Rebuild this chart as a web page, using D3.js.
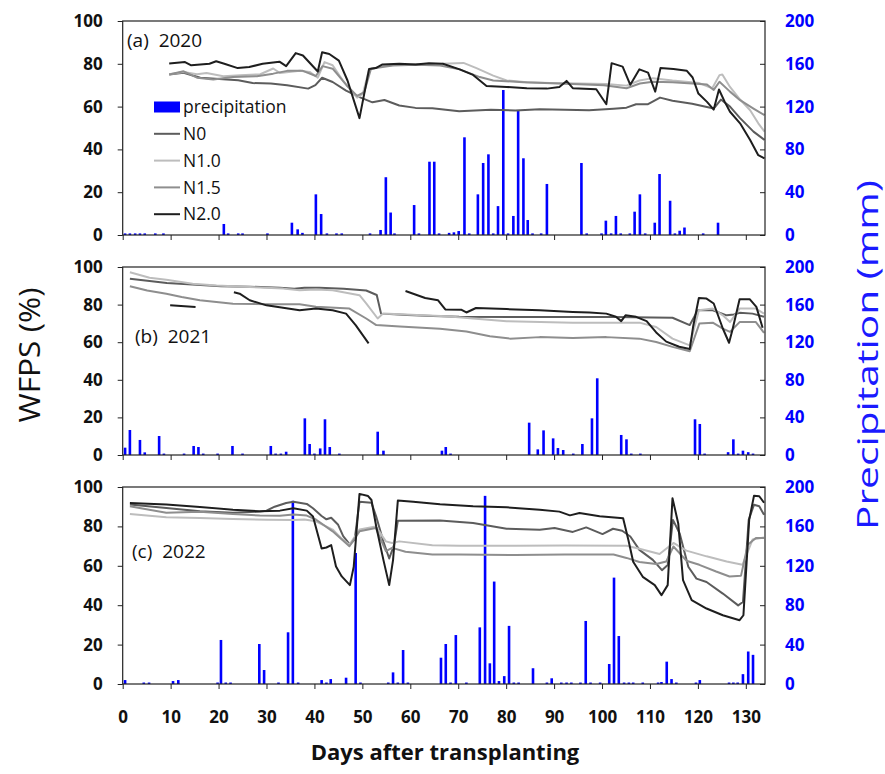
<!DOCTYPE html>
<html><head><meta charset="utf-8">
<script src="https://cdn.jsdelivr.net/npm/d3@7"></script>
<style>body{margin:0;background:#fff}svg{display:block}</style>
</head><body>
<svg id="chart" width="885" height="774"></svg>
<script>
// ---------- labels & ticks ----------
const treatments = ["N0", "N1.0", "N1.5", "N2.0"];
const panelLabels = ["(a)  2020", "(b)  2021", "(c)  2022"];
const wfpsTicks = [0, 20, 40, 60, 80, 100];
const precipTicks = [0, 40, 80, 120, 160, 200];
const dayTicks = [0, 10, 20, 30, 40, 50, 60, 70, 80, 90, 100, 110, 120, 130];

// ---------- precipitation [day, mm] ----------
const precip2020 = [[0.5,1.5],[1.5,1.5],[2.6,1.5],[3.6,1.5],[4.6,1.5],[6.8,1.5],[8.5,1.5],[21.1,10.3],[22,1.5],[24.1,1.5],[25,1.5],[30.2,1.5],[35.3,11.5],[36.5,5.3],[37.5,2],[40.3,38],[41.4,19.6],[42.6,1.5],[44.6,1.5],[45.7,1.5],[51.6,1.5],[53.8,4.7],[54.9,54],[55.9,21],[56.7,1.5],[60.8,28],[61.8,1.5],[64,68.5],[65,68.5],[66,1.5],[68.1,2],[69.1,2.5],[70.1,3.7],[71.3,91.3],[72.3,1.5],[74.1,38],[75.2,67.3],[76.3,75.4],[77.3,1.5],[78.3,27],[79.4,135.5],[80.4,1.5],[81.5,17.8],[82.5,116],[83.6,71.7],[84.5,14],[85.5,1.5],[87.3,1.5],[88.5,47.7],[95.7,67.3],[96.8,1.5],[99.9,1.5],[100.8,13.4],[101.9,1.5],[102.9,17.8],[103.9,1.5],[105.8,1.5],[106.8,21.8],[107.9,38],[109,1.5],[111,11.5],[112,57],[114.2,32],[115.2,1.5],[116.2,4],[117.2,7],[121.1,1.5],[124.2,11.5]];
const precip2021 = [[0.5,7.8],[1.5,26.6],[3.6,16],[4.6,2.8],[7.6,20.2],[8.6,1.5],[12.8,1.5],[14.8,9.6],[15.8,8.5],[16.8,1.5],[19.8,1.5],[22.9,9.6],[25,1.5],[30.9,9.6],[31.9,1.5],[33,1.5],[34.1,3.5],[38,39],[39,11.7],[40,1.5],[41.2,7],[42.2,38],[43.2,8.5],[45.2,1.5],[53.2,24.8],[54.4,4.6],[66.6,4.6],[67.4,8.5],[68.4,1.5],[84.8,34.4],[86.6,6],[87.8,26.2],[89.8,17.7],[90.8,7.4],[91.9,5.3],[94,1.5],[95.9,11.7],[97.9,39],[99,81.6],[104,21.3],[105.1,16.7],[106.1,1.5],[108,1.5],[119.4,38],[120.4,33],[121.4,1.5],[126.3,3],[127.4,16.7],[128.4,1.5],[129.4,4.6],[130.5,3],[131.5,1.5]];
const precip2022 = [[0.5,4],[4.4,1.5],[5.5,1.5],[10.5,3],[11.6,4],[19.8,1.5],[20.5,44.7],[21.5,1.5],[22.5,1.5],[28.5,40.6],[29.5,14.2],[32.5,1.5],[34.5,52.5],[35.5,186],[36.6,1.5],[41.5,4],[42.5,1.5],[43.4,5],[46.6,6.4],[48.6,133],[49.6,1.5],[55.4,1.5],[56.4,11.8],[57.4,1.5],[58.5,34.5],[59.5,1.5],[66.4,26.7],[67.4,40.6],[68.4,1.5],[69.5,49.7],[71.7,1.5],[74.5,57.5],[75.6,191],[76.6,21],[77.5,104],[78.5,3],[79.6,8],[80.6,59],[81.6,1.5],[82.6,1.5],[85.6,16],[88.5,1.5],[89.5,5.8],[91.5,1.5],[92.6,1.5],[93.6,1.5],[95.5,1.5],[96.6,64],[97.6,1.5],[99.6,1.5],[101.5,20.3],[102.5,108],[103.5,48.7],[104.6,1.5],[105.6,1.5],[106.5,1.5],[108.5,1.5],[111.7,1.5],[112.4,2],[113.5,22.7],[114.5,5],[115.5,1.5],[119.6,1.5],[120.4,4],[126.5,1.5],[127.4,1.5],[128.3,1.5],[129.4,10],[130.5,33],[131.5,29.6]];

// ---------- WFPS (%) [day, value]; null = gap ----------
const n0_2020 = [[9.7,75],[12.7,75.8],[16.2,73.5],[24.1,72.3],[27.1,71],[30.9,70.8],[34.3,70],[38.7,68.4],[40.2,70],[41.6,73.5],[43.8,71.5],[46.6,67.5],[49.4,64.4],[52.1,62],[54.6,63.1],[57.7,60.5],[61.1,59.4],[64.6,59.2],[70.2,57.8],[76.8,58.5],[81.9,58.2],[87,58.8],[92.2,58.5],[97.3,58.3],[102.4,59],[105.1,59.5],[107.1,61.1],[109.6,61.1],[112.1,64.2],[114.7,62.7],[118.8,61.3],[123.3,59.1],[124.8,63.3],[126.7,60],[128.8,54.6],[131.6,48.3],[133.9,44.4]];
const n10_2020 = [[9.7,75.1],[12.7,76.2],[15.5,75.1],[17.5,75.7],[21,74.2],[24.5,74.7],[28.7,75.1],[31.4,77.8],[32.8,75.7],[37,76.7],[39,76.2],[40.7,73.5],[42.1,80.8],[43.8,79.3],[45.9,72.3],[47.9,66.8],[48.9,64.2],[50.1,66],[51.4,77.3],[54.3,79],[57.3,79.5],[61.4,79.8],[66.6,80],[71.1,80.4],[73.8,78],[77.3,74.5],[80.1,72.2],[84.3,71.4],[89.1,71],[100.9,70.6],[105.1,69.8],[107.8,72.2],[110.6,73.3],[114.7,72.2],[120.3,71],[123,68.6],[124.5,74.7],[125.1,75],[126.7,69.2],[128.8,63.3],[130.9,58.3],[132.6,52.2],[133.9,48.3]];
const n15_2020 = [[9.7,75],[12.7,76.5],[15.5,73.5],[18.9,72.7],[23,73.8],[28,74.2],[31.4,75.4],[34.3,76.7],[37.6,76.7],[40.3,74.3],[41.7,78.9],[43.8,77.7],[46.7,70],[48.9,65],[50.4,66.8],[51.8,77.7],[56.3,79.2],[61.4,79.5],[66.2,79.2],[70.3,77.4],[74.5,73.8],[77.3,72.2],[83.6,71.4],[93.9,70.6],[100.4,70],[105.1,68.6],[107.9,70.8],[110.6,71.6],[114.7,71.4],[118.8,70.8],[121.9,70.3],[123.3,67.8],[124.5,71.6],[126.7,67],[128.8,63],[131.6,59.1],[133.9,56]];
const n20_2020 = [[9.7,80.1],[13,80.8],[14.3,79.3],[18.1,80],[19.5,81.2],[21.2,80],[24,78],[26.4,78.5],[29.2,80],[32.7,81],[34.1,78.9],[36.1,85],[37.6,83.9],[40.7,76.4],[41.6,85.4],[43.1,84.6],[45.1,81.5],[46.9,72.2],[49.4,54.6],[51.4,77.6],[52.8,78],[54.2,79.7],[57.7,80],[61.1,79.7],[63.9,80.3],[66.8,80],[70.3,77.4],[73.1,74.8],[75.9,69.6],[80.1,69.2],[84.3,68.6],[88.5,68.4],[91.1,69.2],[92.6,72],[93.9,68.6],[98.8,68.1],[100.9,61.1],[102,80.3],[104.3,78.7],[105.9,70.2],[107.8,77.4],[109.6,75.9],[111.1,67],[112.2,78],[114.9,77.6],[117.7,76.7],[118.9,73.6],[120.1,66.1],[121.9,62.2],[123.3,58.6],[124.4,68],[125.6,62.2],[126.7,57.6],[128.8,52.2],[130.9,44.4],[132.6,37.3],[133.9,35.8]];

const n0_2021 = [[1.5,93.8],[5.6,92.5],[9.2,91.5],[15.4,90.5],[20.5,89.8],[26.6,89.5],[32.8,89],[35.8,88.4],[37.9,89],[41,88.9],[46.1,88.4],[50.8,87.5],[53,85.1],[53.9,75.2],[59.4,74.5],[64.7,74],[70.2,73.5],[81.9,73.4],[92.2,73.4],[102.4,73.4],[114.7,73],[118.3,69.1],[120,77],[123.1,77],[126,74.3],[127.5,74.7],[128.7,75.6],[131.4,75.2],[133.8,73.5]];
const n10_2021 = [[1.5,97.2],[5.6,94.3],[9.1,93.2],[14.6,91.1],[19.6,90.2],[26.5,89.4],[33.5,88.5],[36.9,87.6],[40.3,88],[43.8,87.6],[49.4,85],[50.8,80.6],[53.2,72.6],[54.3,75.2],[61.4,74.5],[67.6,73.8],[73.7,72.5],[80.1,71.2],[93.9,70.4],[107.8,70.4],[111.3,68.1],[114.7,61.9],[118.3,58.3],[120.2,77],[123.1,77.9],[125.2,74.3],[126.7,70.7],[128.7,77.9],[132.1,77.9],[133.8,75.2]];
const n15_2021 = [[1.5,89.8],[5.1,87.5],[9.1,85.8],[12.3,84],[16.1,82.3],[23,80.5],[30.7,80.2],[36.9,80.2],[40.3,78.8],[47.3,77.9],[50.8,72.6],[52.9,69.1],[57.8,68.3],[66.2,67.2],[71.7,65.7],[76.6,63.2],[80.8,61.9],[87,62.7],[93.9,62.2],[100.9,62.7],[107.8,61.9],[111.3,60.1],[114.7,57.5],[118.3,55.2],[120.3,69.9],[123.1,70.4],[125.2,67.2],[126.7,65.5],[128.7,70.7],[132.1,70.7],[133.8,65]];
const n20_2021 = [[9.9,79.6],[15.2,78.7],null,[23.2,86.6],[24.4,85.8],[26.5,82.3],[30,79.6],[36.9,77],[40.3,77.9],[43.8,77],[46.6,75.2],[48.6,69.1],[51.3,59.4],null,[59,87.2],[63.1,83.5],[65.8,82.3],[67.3,77.4],[70.7,77.2],[71.7,75.8],[73.7,78.2],[80.1,77.6],[87,77],[93.9,76.1],[97.4,75.8],[100.9,75.2],[102.9,73.5],[104,71.2],[104.9,74.3],[107.1,73.5],[109.3,71.2],[111.3,65.2],[113.4,60.3],[116.1,57.6],[118.3,56.4],[119,68.2],[120.2,83.5],[121.8,83.2],[123.3,80.6],[125.2,67.3],[126.5,59.7],[127.2,66.5],[128.7,82.9],[130.8,82.9],[132.2,78.8],[133.5,67.7]];

const n0_2022 = [[1.5,91.1],[9.1,89.4],[16.1,87.7],[23,86.9],[28.6,87.5],[30,88],[31.7,90],[34.1,91.9],[35.6,92.5],[38.4,91.4],[39.7,89.2],[41.5,85.3],[42.5,83.6],[43.5,84.4],[44.9,81],[46,75.1],[47.4,70.8],[48.4,73.4],[49.4,92.5],[51.9,92],[52.9,84.9],[54.4,72.2],[55.6,63.7],[56.6,70.5],[57.4,82.9],[66.2,83],[73.1,81.7],[80.1,78.8],[87,78.3],[90.1,79.2],[93.9,77.2],[96.7,79.5],[100.1,76.1],[102.3,78.8],[104.2,77.8],[105.9,74.9],[107.8,68.1],[110.6,63],[112.5,57.8],[113.7,60.4],[114.8,83.3],[116.2,76.4],[118,59.5],[119.7,53.5],[121.8,51.8],[125.2,45.9],[128.4,39.9],[129.4,41.6],[130.6,83.3],[131.7,91],[132.8,90.2],[133.8,85.9]];
const n10_2022 = [[1.5,86.3],[9.1,84.6],[16.1,84.3],[23,83.8],[30,83.4],[35.6,83.2],[37.9,83.5],[40.3,82.6],[43.8,78.4],[45.6,74],[47.3,70.7],[49.4,78.4],[52.8,80],[54.9,72.4],[56.2,71.6],[57.7,72.4],[64.6,70.4],[70.2,70.2],[81.9,70.2],[92.2,70.3],[105.1,70.2],[107.8,68.7],[112,66],[114.9,71.6],[117.6,67.7],[121.8,64.8],[126,62.2],[129.3,60.5],[131.4,73.3],[133.8,74.4]];
const n15_2022 = [[1.5,90.2],[9.1,86.9],[16.1,87.4],[23,86.3],[28.6,85.5],[32.8,85.4],[35.6,86],[38.4,85.5],[40.3,83.5],[43.8,77.5],[47.3,69.9],[49.4,77.5],[52.8,79.2],[54.9,67.4],[56.2,69.1],[59,67.1],[64.6,65.7],[70.2,65.7],[81.9,65.5],[92.2,65.7],[102.4,65.7],[105.1,64],[107.8,61.9],[111.3,60.9],[113.4,62.2],[114.9,69.8],[117.6,62.6],[120.3,60.5],[123.8,57.1],[126.6,54.6],[129,55],[130.4,70.7],[132.1,74.1],[133.8,74.1]];
const n20_2022 = [[1.5,91.9],[9.1,91.1],[16.1,89.9],[23,88.5],[28.6,87.7],[32.8,88],[35.6,89.2],[38.4,88],[39.7,85],[41.5,68.8],[42.5,69.3],[43.5,70.5],[44.5,59.6],[45.7,54.6],[47.4,50.2],[48.2,59.6],[49.4,96.5],[51.2,95.4],[51.9,93.4],[52.9,79.8],[54.4,62.9],[55.6,50.2],[56.4,62.9],[57.4,93.1],[60.6,92.5],[66.2,91.2],[73.1,90.2],[80.1,89.7],[87,88.5],[91.1,87.5],[93.3,85.6],[95.3,86.8],[99.5,85.2],[104.4,84.1],[105.5,73.1],[106.5,62.1],[108.5,54.4],[111,50.2],[112.4,45.1],[113.7,50.2],[114.7,94.3],[115.9,81.5],[116.9,52.7],[118.7,42.6],[121.8,38.3],[125.2,34.9],[128.7,32.4],[129.5,34.9],[130.7,83.3],[131.7,95.5],[132.8,95.3],[133.8,92]];

// ---------- build ----------
const lineColors = ["#5c5c5c", "#bdbdbd", "#8e8e8e", "#1e1e1e"];
const panels = [
  {label: panelLabels[0], top: 21, bottom: 235, labelX: 127, labelY: 40, precip: precip2020, series: [n0_2020, n10_2020, n15_2020, n20_2020]},
  {label: panelLabels[1], top: 267, bottom: 455, labelX: 135, labelY: 336, precip: precip2021, series: [n0_2021, n10_2021, n15_2021, n20_2021]},
  {label: panelLabels[2], top: 487, bottom: 684, labelX: 132, labelY: 551, precip: precip2022, series: [n0_2022, n10_2022, n15_2022, n20_2022]}
];

const svg = d3.select("#chart");
const left = 122.7, right = 765;
const x = d3.scaleLinear().domain([0, 134]).range([left, right]);
const tickFont = "'Open Sans', 'Noto Sans', sans-serif";
const blue = "#0000ff";

panels.forEach((p, i) => {
  const y = d3.scaleLinear().domain([0, 100]).range([p.bottom, p.top]);
  const yP = d3.scaleLinear().domain([0, 200]).range([p.bottom, p.top]);
  const g = svg.append("g");

  g.append("clipPath").attr("id", "clip" + i)
    .append("rect").attr("x", left).attr("y", p.top).attr("width", right - left).attr("height", p.bottom - p.top);

  // bars
  g.append("g").selectAll("rect").data(p.precip).join("rect")
    .attr("x", d => x(d[0]) - 1.3).attr("width", 2.6)
    .attr("y", d => yP(d[1])).attr("height", d => p.bottom - yP(d[1]))
    .attr("fill", blue);

  // lines
  const line = d3.line().defined(d => d != null).x(d => x(d[0])).y(d => y(d[1]));
  const lg = g.append("g").attr("clip-path", `url(#clip${i})`);
  p.series.forEach((s, k) => {
    lg.append("path").datum(s).attr("d", line)
      .attr("fill", "none").attr("stroke", lineColors[k]).attr("stroke-width", 2)
      .attr("stroke-linejoin", "round");
  });

  // frame
  g.append("rect").attr("x", left).attr("y", p.top).attr("width", right - left).attr("height", p.bottom - p.top)
    .attr("fill", "none").attr("stroke", "#222").attr("stroke-width", 1.2);

  // left axis
  const ax = g.append("g").attr("transform", `translate(${left},0)`)
    .call(d3.axisLeft(y).tickValues(wfpsTicks).tickSize(5).tickPadding(15));
  ax.select(".domain").remove();
  ax.selectAll("line").attr("stroke", "#222");
  ax.selectAll("text").attr("font-family", tickFont).attr("font-weight", "bold").attr("font-size", 17).attr("fill", "#111");

  // right axis
  const ar = g.append("g").attr("transform", `translate(${right},0)`)
    .call(d3.axisRight(yP).tickValues(precipTicks).tickSizeInner(-5).tickSizeOuter(0).tickPadding(20));
  ar.select(".domain").remove();
  ar.selectAll("line").attr("stroke", "#222");
  ar.selectAll("text").attr("font-family", tickFont).attr("font-weight", "bold").attr("font-size", 17).attr("fill", blue);

  // bottom axis
  const ab = g.append("g").attr("transform", `translate(0,${p.bottom})`)
    .call(d3.axisBottom(x).tickValues(dayTicks).tickSize(5).tickPadding(22));
  ab.select(".domain").remove();
  ab.selectAll("line").attr("stroke", "#222");
  if (i < 2) ab.selectAll("text").remove();
  else ab.selectAll("text").attr("font-family", tickFont).attr("font-weight", "bold").attr("font-size", 17).attr("fill", "#111").attr("dy", "0.35em").attr("y", 33);

  // panel label
  g.append("text").attr("x", p.labelX).attr("y", p.labelY).attr("dy", "0.35em")
    .attr("font-family", tickFont).attr("font-size", 19).attr("fill", "#111")
    .style("white-space", "pre").text(p.label);
});

// legend (panel a)
const lgd = svg.append("g").attr("font-family", tickFont).attr("font-size", 17.5).attr("fill", "#111");
const legY0 = 107, legStep = 26.8;
lgd.append("rect").attr("x", 154).attr("y", legY0 - 5.5).attr("width", 26).attr("height", 11).attr("fill", blue);
lgd.append("text").attr("x", 183).attr("y", legY0).attr("dy", "0.35em").text("precipitation");
treatments.forEach((t, k) => {
  const yy = legY0 + legStep * (k + 1);
  lgd.append("line").attr("x1", 154).attr("x2", 180).attr("y1", yy).attr("y2", yy)
    .attr("stroke", lineColors[k]).attr("stroke-width", 2);
  lgd.append("text").attr("x", 183).attr("y", yy).attr("dy", "0.35em").text(t);
});

// axis titles
svg.append("text").attr("transform", "translate(30,355) rotate(-90)")
  .attr("text-anchor", "middle").attr("dy", "0.35em")
  .attr("font-family", tickFont).attr("font-size", 29).attr("fill", "#111")
  .attr("textLength", 135).attr("lengthAdjust", "spacingAndGlyphs").text("WFPS (%)");
svg.append("text").attr("transform", "translate(868,355) rotate(-90)")
  .attr("text-anchor", "middle").attr("dy", "0.35em")
  .attr("font-family", tickFont).attr("font-size", 29).attr("fill", "#1a1aff")
  .attr("textLength", 350).attr("lengthAdjust", "spacingAndGlyphs").text("Precipitation (mm)");
svg.append("text").attr("x", 445).attr("y", 752).attr("dy", "0.35em").attr("text-anchor", "middle")
  .attr("font-family", tickFont).attr("font-weight", "bold").attr("font-size", 22).attr("fill", "#111")
  .text("Days after transplanting");
</script>
</body></html>
